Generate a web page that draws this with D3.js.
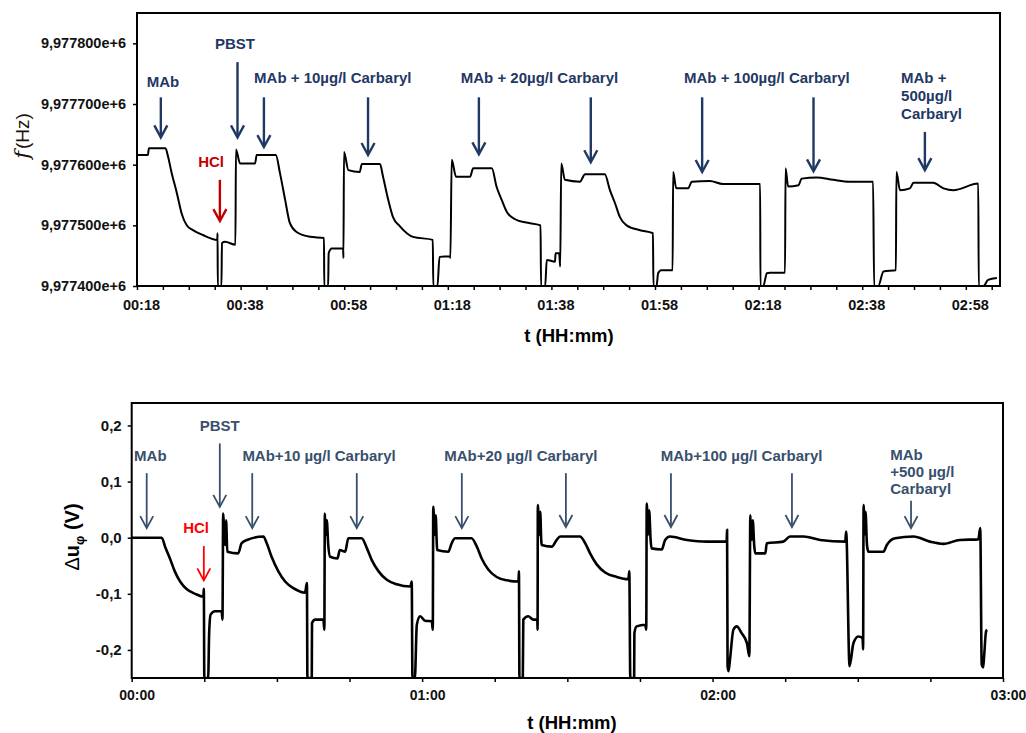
<!DOCTYPE html>
<html>
<head>
<meta charset="utf-8">
<script src="https://cdn.jsdelivr.net/npm/d3@7"></script>
<style>
  body { margin: 0; background: #fff; }
  text { font-family: "Liberation Sans", Arial, sans-serif; }
</style>
</head>
<body>
<div id="chart"></div>
<script>
// ---- top panel: resonance frequency, [time in minutes, f in Hz]
var freqPoints = [
  [18.0,9977616],[20.1,9977616],[20.3,9977627],[23.5,9977627],[24.0,9977613],[24.7,9977586],
  [25.7,9977553],[26.6,9977520],[27.6,9977500],[28.8,9977492],[30.7,9977484],[33.5,9977476],
  [33.55,9977487],[33.6,9977400],[34.3,9977400],[34.4,9977471],[35.0,9977473],[37.0,9977468],
  [37.1,9977625],[37.9,9977602],[40.8,9977602],[41.1,9977616],[44.8,9977616],[45.6,9977586],
  [46.6,9977542],[47.5,9977504],[48.8,9977489],[51.4,9977481],[54.1,9977479],[54.15,9977400],
  [54.9,9977400],[55.0,9977454],[55.6,9977462],[57.8,9977462],[57.85,9977446],[57.96,9977621],
  [58.8,9977591],[61.0,9977588],[61.4,9977601],[64.9,9977601],[65.5,9977580],[66.5,9977542],
  [67.4,9977514],[68.8,9977498],[71.3,9977481],[75.1,9977476],[75.2,9977400],[76.0,9977400],
  [76.4,9977448],[78.4,9977449],[78.5,9977446],[78.75,9977608],[79.6,9977580],[82.3,9977580],
  [82.9,9977594],[86.5,9977594],[87.4,9977564],[88.4,9977542],[89.4,9977522],[91.0,9977510],
  [92.9,9977505],[95.9,9977500],[96.0,9977400],[96.8,9977400],[97.1,9977443],[98.7,9977440],
  [98.8,9977454],[99.5,9977454],[99.7,9977432],[99.9,9977602],[100.6,9977575],[103.5,9977572],
  [104.5,9977584],[108.3,9977584],[109.3,9977558],[110.3,9977536],[111.2,9977514],[112.5,9977500],
  [115.1,9977492],[117.6,9977487],[117.7,9977400],[118.3,9977400],[118.6,9977421],[119.2,9977426],
  [121.4,9977426],[121.5,9977588],[122.1,9977561],[124.4,9977561],[125.1,9977572],[128.6,9977573],
  [131.1,9977568],[138.3,9977568],[138.35,9977400],[138.9,9977400],[139.6,9977421],[140.2,9977422],
  [143.1,9977422],[143.2,9977594],[143.7,9977564],[145.7,9977566],[146.3,9977577],[149.2,9977579],
  [152.4,9977575],[155.6,9977572],[160.1,9977572],[160.3,9977400],[161.1,9977400],[162.1,9977424],
  [164.5,9977426],[164.6,9977588],[165.3,9977558],[167.2,9977561],[167.9,9977570],[171.7,9977570],
  [173.7,9977561],[175.6,9977558],[180.4,9977569],[180.5,9977400],[181.4,9977400],[182.3,9977410],
  [184.0,9977413]
];
var freqDomainT = [18, 184.6];
var freqDomainHz = [9977400, 9977850];
var freqTicksHz = [9977400, 9977500, 9977600, 9977700, 9977800];

// ---- bottom panel: phase voltage, [time in minutes, delta u in V]
var phasePoints = [
  [0,0],[6.2,0],[6.9,-0.016],[7.9,-0.037],[8.9,-0.060],[10.0,-0.078],[11.4,-0.092],[13.1,-0.100],
  [14.8,-0.105],[14.9,-0.091],[15.0,-0.25],[15.8,-0.25],[16.0,-0.170],[16.3,-0.137],[17.2,-0.131],
  [18.6,-0.131],[18.75,-0.146],[18.9,0.043],[19.1,0.014],[19.3,-0.013],[19.5,0.031],[19.75,-0.025],
  [22.0,-0.028],[22.7,-0.010],[23.8,-0.004],[27.2,0.002],[27.9,-0.010],[28.9,-0.034],[30.3,-0.060],
  [31.7,-0.078],[33.4,-0.090],[35.8,-0.098],[36.2,-0.081],[36.3,-0.25],[37.2,-0.25],[37.25,-0.152],
  [37.9,-0.146],[39.6,-0.146],[39.8,-0.164],[39.9,0.043],[40.1,0.005],[40.3,0.031],[40.6,-0.013],
  [41.0,-0.034],[42.5,-0.037],[43.0,-0.022],[44.1,-0.025],[44.75,-0.001],[47.5,-0.001],[48.6,-0.019],
  [49.6,-0.040],[51.0,-0.060],[52.7,-0.075],[54.75,-0.083],[57.6,-0.087],[57.85,-0.078],[58.0,-0.25],
  [58.5,-0.25],[58.9,-0.155],[59.6,-0.140],[60.6,-0.148],[62.0,-0.149],[62.2,-0.164],[62.3,0.055],
  [62.6,0.005],[62.8,0.040],[63.0,-0.004],[63.1,-0.022],[65.4,-0.025],[66.1,-0.010],[66.8,-0.001],
  [70.2,-0.001],[71.3,-0.016],[72.3,-0.037],[73.7,-0.057],[75.4,-0.070],[77.5,-0.076],[79.9,-0.078],
  [80.0,-0.060],[80.1,-0.25],[80.8,-0.25],[80.9,-0.146],[81.9,-0.140],[83.0,-0.146],[83.8,-0.146],
  [83.85,-0.164],[83.9,0.058],[84.2,0.005],[84.4,0.046],[84.6,-0.004],[84.7,-0.013],[86.8,-0.016],
  [87.8,-0.004],[88.5,0.002],[92.6,0.002],[93.7,-0.010],[94.7,-0.028],[96.1,-0.048],[97.8,-0.062],
  [100.2,-0.070],[102.6,-0.074],[102.8,-0.060],[103.0,-0.25],[103.8,-0.25],[103.85,-0.170],
  [104.3,-0.158],[106.1,-0.155],[106.3,-0.164],[106.4,0.061],[106.7,0.005],[106.9,0.049],[107.2,-0.004],
  [107.4,-0.019],[109.5,-0.021],[110.2,-0.004],[111.2,0.002],[114.7,-0.004],[118.8,-0.007],
  [122.9,-0.007],[123.0,0.014],[123.1,-0.229],[123.3,-0.238],[123.6,-0.217],[124.3,-0.164],
  [125.0,-0.158],[126.0,-0.170],[127.1,-0.188],[127.6,-0.211],[127.8,0.040],[128.1,-0.004],
  [128.3,0.031],[128.6,-0.013],[128.8,-0.028],[130.9,-0.028],[131.2,-0.010],[134.6,-0.007],
  [136.0,0.002],[138.8,0.002],[142.2,-0.004],[147.4,-0.007],[147.6,0.011],[148.3,-0.229],
  [149.1,-0.188],[150.1,-0.176],[151.0,-0.179],[151.1,-0.199],[151.2,0.058],[151.4,0.005],
  [151.6,0.046],[151.9,-0.013],[152.2,-0.025],[155.3,-0.025],[156.0,-0.013],[157.7,-0.001],
  [161.5,0.002],[164.9,-0.007],[167.7,-0.011],[171.1,-0.004],[174.9,-0.003],[175.3,0.017],
  [175.6,-0.226],[175.9,-0.231],[176.1,-0.211],[176.5,-0.167],[176.7,-0.164]
];
var phaseDomainT = [0, 180];
var phaseDomainV = [-0.25, 0.24];
var phaseTicksV = [-0.2, -0.1, 0, 0.1, 0.2];

// ---- annotations: [label lines, time, value, anchor]
var topNotes = [
  [["MAb"], 23.0, 9977728, "middle"],
  [["PBST"], 36.9, 9977790, "middle"],
  [["MAb + 10µg/l Carbaryl"], 55.8, 9977734, "middle"],
  [["MAb + 20µg/l Carbaryl"], 95.7, 9977734, "middle"],
  [["MAb + 100µg/l Carbaryl"], 139.6, 9977734, "middle"],
  [["MAb +", "500µg/l", "Carbaryl"], 165.5, 9977734, "start"]
];
var topHcl = [32.3, 9977596];
// arrows: [time, from, to]
var topArrows = [
  [22.6, 9977711, 9977645], [37.4, 9977769, 9977645], [42.5, 9977711, 9977629],
  [62.6, 9977711, 9977616], [84.0, 9977711, 9977617], [105.6, 9977711, 9977604],
  [127.1, 9977711, 9977588], [148.6, 9977711, 9977589], [170.1, 9977654, 9977591]
];
var topHclArrow = [34.0, 9977575, 9977507];

var bottomNotes = [
  [["MAb"], 0.5, 0.137, "start"],
  [["PBST"], 18.2, 0.190, "middle"],
  [["MAb+10 µg/l Carbaryl"], 38.7, 0.137, "middle"],
  [["MAb+20 µg/l Carbaryl"], 80.4, 0.137, "middle"],
  [["MAb+100 µg/l Carbaryl"], 126.0, 0.137, "middle"],
  [["MAb", "+500 µg/l", "Carbaryl"], 156.7, 0.138, "start"]
];
var bottomHcl = [13.3, 0.008];
var bottomArrows = [
  [3.1, 0.115, 0.017], [18.2, 0.168, 0.055], [24.9, 0.115, 0.017], [46.5, 0.115, 0.017],
  [68.2, 0.115, 0.017], [89.7, 0.115, 0.019], [111.4, 0.115, 0.019], [136.4, 0.115, 0.019],
  [161.0, 0.066, 0.017]
];
var bottomHclArrow = [14.9, -0.015, -0.076];

function hhmm(m) {
  var h = Math.floor(m / 60), mm = Math.round(m % 60);
  return (h < 10 ? "0" : "") + h + ":" + (mm < 10 ? "0" : "") + mm;
}

var svg = d3.select("#chart").append("svg")
    .attr("width", 1026)
    .attr("height", 733);

var navy = "#1f3864";
function drawArrow(g, x, ya, yb, color, width) {
  g.append("line").attr("x1", x).attr("x2", x).attr("y1", ya).attr("y2", yb - 1)
      .attr("stroke", color).attr("stroke-width", width);
  g.append("path")
      .attr("d", "M" + (x - 6.5) + "," + (yb - 12) + "L" + x + "," + yb + "L" + (x + 6.5) + "," + (yb - 12))
      .attr("fill", "none").attr("stroke", color).attr("stroke-width", width)
      .attr("stroke-linejoin", "miter");
}
function drawNotes(g, notes, xs, ys, color, size, lineGap) {
  notes.forEach(function(n) {
    var t = g.append("text")
        .attr("x", xs(n[1])).attr("y", ys(n[2]))
        .attr("text-anchor", n[3])
        .attr("fill", color)
        .style("font-size", size).style("font-weight", "bold");
    n[0].forEach(function(s, i) {
      t.append("tspan").attr("x", xs(n[1])).attr("dy", i === 0 ? 0 : lineGap).text(s);
    });
  });
}

// ================= top panel =================
var boxA = { left: 137, right: 1000, top: 13, bottom: 286 };
var x1 = d3.scaleLinear().domain(freqDomainT).range([boxA.left, boxA.right]);
var y1 = d3.scaleLinear().domain(freqDomainHz).range([boxA.bottom, boxA.top]);

svg.append("clipPath").attr("id", "clip1").append("rect")
    .attr("x", boxA.left).attr("y", boxA.top)
    .attr("width", boxA.right - boxA.left).attr("height", boxA.bottom - boxA.top);

var g1 = svg.append("g");

g1.append("g")
    .attr("transform", "translate(0," + boxA.bottom + ")")
    .call(d3.axisBottom(x1).tickValues(d3.range(18, 185, 5)).tickSize(4).tickSizeOuter(0)
      .tickFormat(function(d) { return (d - 18) % 20 === 0 ? hhmm(d) : ""; }))
    .call(function(g) {
      g.select(".domain").remove();
      g.selectAll(".tick line").attr("stroke", "#000").attr("stroke-width", 1.5);
      g.selectAll(".tick text").attr("dy", 0).attr("y", 24).attr("dx", 4)
        .style("font-size", "14.5px").style("font-weight", "bold").attr("fill", "#111");
    });

g1.append("g")
    .attr("transform", "translate(" + boxA.left + ",0)")
    .call(d3.axisLeft(y1).tickValues(freqTicksHz).tickSize(4).tickSizeOuter(0)
      .tickFormat(function(d) { return (d / 1e6).toFixed(6).replace(".", ",") + "e+6"; }))
    .call(function(g) {
      g.select(".domain").remove();
      g.selectAll(".tick line").attr("stroke", "#000").attr("stroke-width", 1.5);
      g.selectAll(".tick text").attr("x", -11)
        .style("font-size", "14.5px").style("font-weight", "bold").attr("fill", "#111");
    });

var line1 = d3.line().curve(d3.curveMonotoneX)
    .x(function(d) { return x1(d[0]); }).y(function(d) { return y1(d[1]); });
g1.append("path")
    .datum(freqPoints)
    .attr("clip-path", "url(#clip1)")
    .attr("fill", "none")
    .attr("stroke", "#000")
    .attr("stroke-width", 2)
    .attr("stroke-linejoin", "round")
    .attr("d", line1);

g1.append("rect")
    .attr("x", boxA.left).attr("y", boxA.top)
    .attr("width", boxA.right - boxA.left).attr("height", boxA.bottom - boxA.top)
    .attr("fill", "none").attr("stroke", "#000").attr("stroke-width", 2);

g1.append("text")
    .attr("x", 569).attr("y", 342)
    .attr("text-anchor", "middle")
    .style("font-size", "18.5px").style("font-weight", "bold")
    .text("t (HH:mm)");

g1.append("text")
    .attr("transform", "translate(29,136) rotate(-90)")
    .attr("text-anchor", "middle")
    .style("font-size", "19px")
    .attr("fill", "#1a1208")
    .html("<tspan font-style='italic' font-family='DejaVu Serif' font-size='21px'>f</tspan><tspan dx='2'>(Hz)</tspan>");

drawNotes(g1, topNotes, x1, y1, navy, "15px", 18);
g1.append("text").attr("x", x1(topHcl[0])).attr("y", y1(topHcl[1]))
    .attr("text-anchor", "middle").attr("fill", "#c00000")
    .style("font-size", "15px").style("font-weight", "bold").text("HCl");
topArrows.forEach(function(a) { drawArrow(g1, x1(a[0]), y1(a[1]), y1(a[2]), navy, 2.4); });
drawArrow(g1, x1(topHclArrow[0]), y1(topHclArrow[1]), y1(topHclArrow[2]), "#c00000", 2.4);

// ================= bottom panel =================
var boxB = { left: 131.7, right: 1003, top: 403, bottom: 678 };
var x2 = d3.scaleLinear().domain(phaseDomainT).range([boxB.left, boxB.right]);
var y2 = d3.scaleLinear().domain(phaseDomainV).range([boxB.bottom, boxB.top]);

svg.append("clipPath").attr("id", "clip2").append("rect")
    .attr("x", boxB.left).attr("y", boxB.top)
    .attr("width", boxB.right - boxB.left).attr("height", boxB.bottom - boxB.top);

var g2 = svg.append("g");

g2.append("g")
    .attr("transform", "translate(0," + boxB.bottom + ")")
    .call(d3.axisBottom(x2).tickValues(d3.range(0, 181, 15)).tickSize(4).tickSizeOuter(0)
      .tickFormat(function(d) { return d % 60 === 0 ? hhmm(d) : ""; }))
    .call(function(g) {
      g.select(".domain").remove();
      g.selectAll(".tick line").attr("stroke", "#000").attr("stroke-width", 1.5);
      g.selectAll(".tick text").attr("dy", 0).attr("y", 22).attr("dx", 5)
        .style("font-size", "14px").style("font-weight", "bold").attr("fill", "#111");
    });

g2.append("g")
    .attr("transform", "translate(" + boxB.left + ",0)")
    .call(d3.axisLeft(y2).tickValues(phaseTicksV).tickSize(4).tickSizeOuter(0)
      .tickFormat(function(d) {
        var s = Math.abs(d).toFixed(1).replace(".", ",");
        return (d < -1e-9 ? "-" : "") + s;
      }))
    .call(function(g) {
      g.select(".domain").remove();
      g.selectAll(".tick line").attr("stroke", "#000").attr("stroke-width", 1.5);
      g.selectAll(".tick text").attr("x", -10)
        .style("font-size", "15px").style("font-weight", "bold").attr("fill", "#111");
    });

var line2 = d3.line().curve(d3.curveMonotoneX)
    .x(function(d) { return x2(d[0]); }).y(function(d) { return y2(d[1]); });
g2.append("path")
    .datum(phasePoints)
    .attr("clip-path", "url(#clip2)")
    .attr("fill", "none")
    .attr("stroke", "#000")
    .attr("stroke-width", 2.6)
    .attr("stroke-linejoin", "round")
    .attr("d", line2);

g2.append("rect")
    .attr("x", boxB.left).attr("y", boxB.top)
    .attr("width", boxB.right - boxB.left).attr("height", boxB.bottom - boxB.top)
    .attr("fill", "none").attr("stroke", "#000").attr("stroke-width", 2);

g2.append("text")
    .attr("x", 572).attr("y", 729)
    .attr("text-anchor", "middle")
    .style("font-size", "18.5px").style("font-weight", "bold")
    .text("t (HH:mm)");

g2.append("text")
    .attr("transform", "translate(79,537) rotate(-90)")
    .attr("text-anchor", "middle")
    .style("font-size", "20px").style("font-weight", "bold")
    .html("<tspan font-weight='normal'>Δ</tspan>u<tspan font-size='13px' dy='5'>φ</tspan><tspan dy='-5'> (V)</tspan>");

var slate = "#38506c";
drawNotes(g2, bottomNotes, x2, y2, slate, "15px", 17);
g2.append("text").attr("x", x2(bottomHcl[0])).attr("y", y2(bottomHcl[1]))
    .attr("text-anchor", "middle").attr("fill", "#ff0000")
    .style("font-size", "15px").style("font-weight", "bold").text("HCl");
bottomArrows.forEach(function(a) { drawArrow(g2, x2(a[0]), y2(a[1]), y2(a[2]), slate, 1.8); });
drawArrow(g2, x2(bottomHclArrow[0]), y2(bottomHclArrow[1]), y2(bottomHclArrow[2]), "#ff0000", 1.8);
</script>
</body>
</html>
